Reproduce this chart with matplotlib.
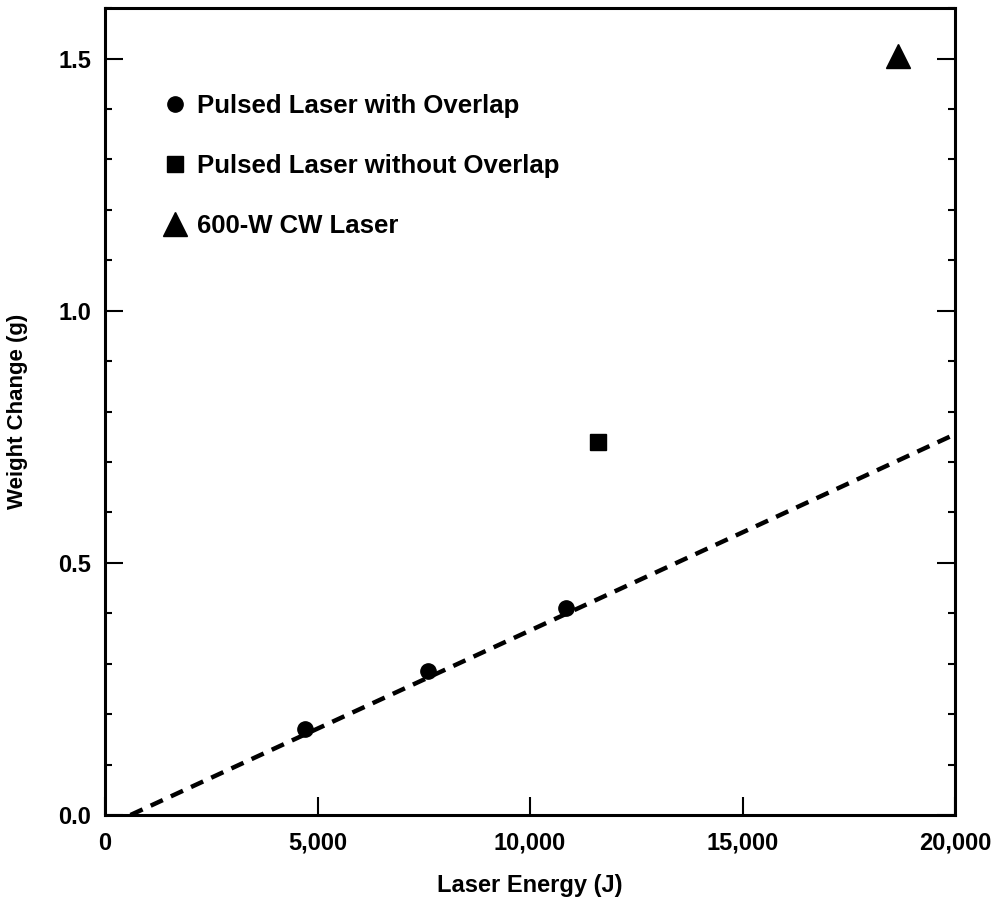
import matplotlib.pyplot as plt
from matplotlib.ticker import MultipleLocator, FuncFormatter

# data
overlap_x = [4700, 7600, 10850]
overlap_y = [0.17, 0.285, 0.41]
no_overlap_x = [11600]
no_overlap_y = [0.74]
cw_x = [18650]
cw_y = [1.505]
fit_x = [600, 20000]
fit_y = [0.0, 0.755]

plt.rcParams['font.family'] = ['Liberation Sans', 'DejaVu Sans']
plt.rcParams['font.weight'] = 'bold'

fig = plt.figure(figsize=(10.03, 9.18), dpi=100)
ax = fig.add_axes([0.1047, 0.1122, 0.8475, 0.879])

ax.plot(fit_x, fit_y, color='black', lw=3.2, ls=(0, (3, 2)), dash_capstyle='butt', zorder=2)
ax.plot(overlap_x, overlap_y, 'o', color='black', ms=11, label='Pulsed Laser with Overlap', zorder=3)
ax.plot(no_overlap_x, no_overlap_y, 's', color='black', ms=11, label='Pulsed Laser without Overlap', zorder=3)
ax.plot(cw_x, cw_y, '^', color='black', ms=17, label='600-W CW Laser', zorder=3)

ax.set_xlim(0, 20000)
ax.set_ylim(0, 1.6)
ax.xaxis.set_major_locator(MultipleLocator(5000))
ax.yaxis.set_major_locator(MultipleLocator(0.5))
ax.yaxis.set_minor_locator(MultipleLocator(0.1))
ax.xaxis.set_major_formatter(FuncFormatter(lambda v, p: f"{int(v):,}"))
ax.yaxis.set_major_formatter(FuncFormatter(lambda v, p: f"{v:.1f}"))
ax.tick_params(which='both', direction='in', right=True, top=False, width=1.5, labelsize=17)
ax.tick_params(which='major', length=13)
ax.tick_params(which='minor', length=5)
ax.tick_params(axis='x', pad=12)
ax.tick_params(axis='y', pad=10)
for s in ax.spines.values():
    s.set_linewidth(2.2)

ax.set_xlabel('Laser Energy (J)', fontsize=17, fontweight='bold', labelpad=14)
ax.set_ylabel('Weight Change (g)', fontsize=16, fontweight='bold', labelpad=22)

ax.legend(loc='upper left', bbox_to_anchor=(0.04, 0.922), frameon=False,
          handletextpad=0.35, labelspacing=1.4, handlelength=1.0, numpoints=1,
          prop={'weight': 'bold', 'size': 18.5})

fig.savefig('out.png', dpi=100)
